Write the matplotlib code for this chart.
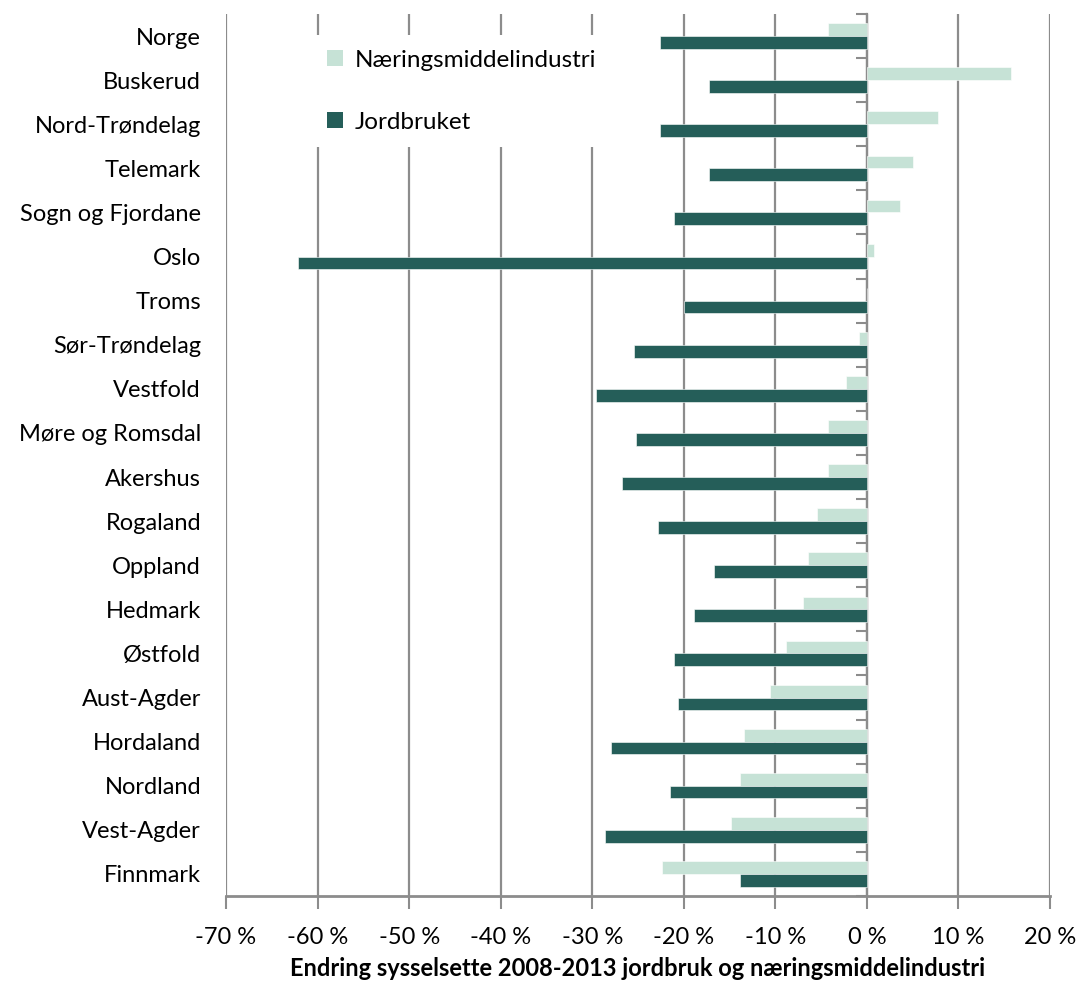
import matplotlib
matplotlib.use('Agg')
import matplotlib.pyplot as plt
import numpy as np
from matplotlib.patches import Patch

# Data: endring sysselsatte 2008-2013 (%)
fylker = ["Norge", "Buskerud", "Nord-Trøndelag", "Telemark", "Sogn og Fjordane",
          "Oslo", "Troms", "Sør-Trøndelag", "Vestfold", "Møre og Romsdal",
          "Akershus", "Rogaland", "Oppland", "Hedmark", "Østfold",
          "Aust-Agder", "Hordaland", "Nordland", "Vest-Agder", "Finnmark"]
naering = [-4.2, 15.7, 7.8, 5.0, 3.6, 0.8, 0.0, -0.9, -2.3, -4.2,
           -4.2, -5.5, -6.4, -7.0, -8.8, -10.6, -13.4, -13.9, -14.8, -22.4]
jordbruk = [-22.6, -17.3, -22.6, -17.2, -21.1, -62.1, -20.0, -25.4, -29.6, -25.2,
            -26.8, -22.8, -16.7, -18.9, -21.1, -20.6, -27.9, -21.5, -28.6, -13.9]
xticks = list(range(-70, 21, 10))

light = '#C6E2D6'
dark = '#255E59'
grid = '#8C8C8C'

plt.rcParams['font.family'] = ['Lato', 'DejaVu Sans']

fig = plt.figure(figsize=(10.8, 9.85), dpi=100)
ax = fig.add_axes([0.2093, 0.0904, 0.7629, 0.8954])

y = np.arange(len(fylker))
h = 0.29
ax.barh(y - h / 2, naering, height=h, color=light, edgecolor='white', linewidth=0.4, zorder=3,
        label='Næringsmiddelindustri')
ax.barh(y + h / 2, jordbruk, height=h, color=dark, edgecolor='white', linewidth=0.4, zorder=3,
        label='Jordbruket')

ax.set_xlim(-70, 20)
ax.set_ylim(len(fylker) - 0.5, -0.5)
ax.set_xticks(xticks)
ax.set_xticklabels([f"{v} %" for v in xticks], fontsize=17)
ax.set_yticks(y)
ax.set_yticklabels(fylker, fontsize=17)
ax.tick_params(axis='y', length=0, pad=18)
ax.tick_params(axis='x', length=9, width=1.5, color=grid, pad=13)

ax.grid(axis='x', color=grid, linewidth=1.6, zorder=0)
for s in ['top', 'right', 'left']:
    ax.spines[s].set_visible(False)
ax.spines['bottom'].set_color(grid)
ax.spines['bottom'].set_linewidth(2)

# kategoriaksen krysser ved 0
sec = ax.secondary_yaxis(70 / 90)
sec.yaxis.set_ticks_position('left')
for s in sec.spines.values():
    s.set_color(grid)
    s.set_linewidth(1.6)
sec.set_yticks(np.arange(-0.5, len(fylker), 1.0))
sec.set_yticklabels([])
sec.tick_params(axis='y', length=8, width=1.5, color=grid, direction='out')

ax.set_xlabel("Endring sysselsette 2008-2013 jordbruk og næringsmiddelindustri",
              fontsize=17, fontweight='bold', labelpad=7)

handles = [Patch(facecolor=light, label='Næringsmiddelindustri'),
           Patch(facecolor=dark, label='Jordbruket')]
leg = ax.legend(handles=handles, loc='upper left', bbox_to_anchor=(0.09, 0.99),
                frameon=True, fancybox=False, edgecolor='none', framealpha=1,
                fontsize=17.5, labelspacing=1.7, handlelength=0.65, handleheight=0.65,
                handletextpad=0.5, borderpad=0.6)
leg.set_zorder(5)

plt.savefig('out.png', dpi=100)
plt.close()
